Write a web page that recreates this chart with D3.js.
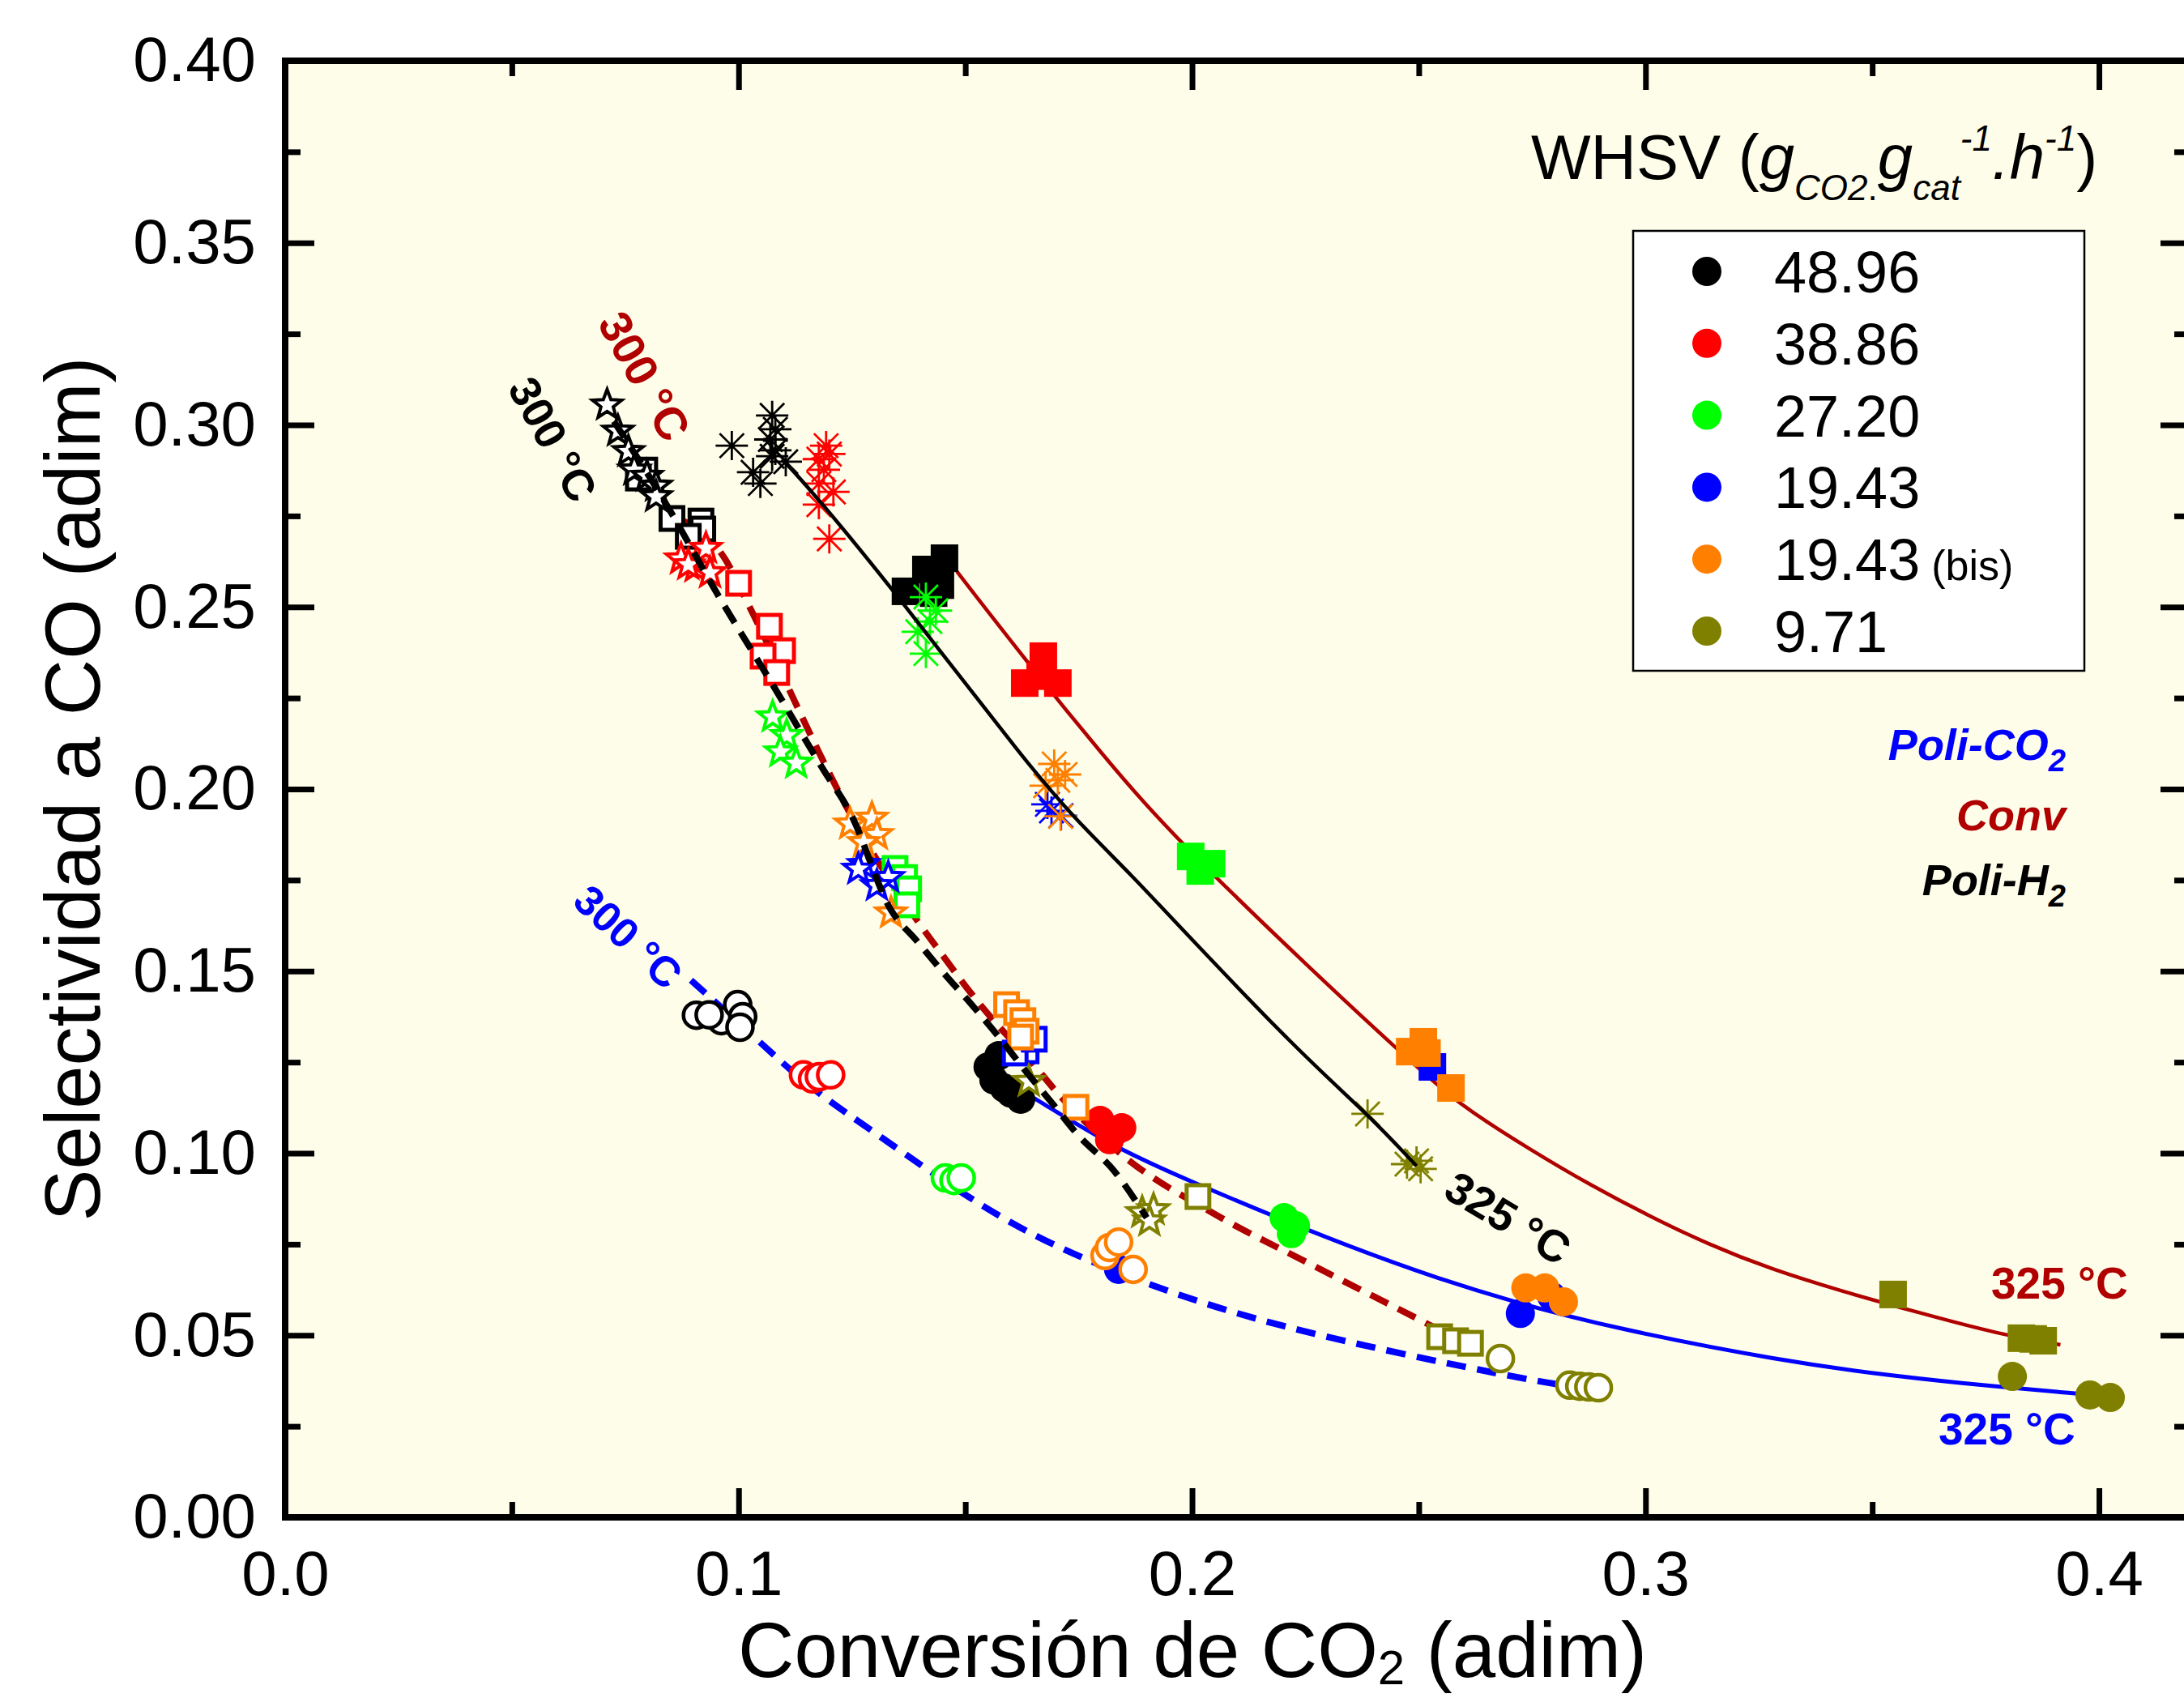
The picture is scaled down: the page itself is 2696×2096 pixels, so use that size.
<!DOCTYPE html>
<html>
<head>
<meta charset="utf-8">
<script src="https://cdn.jsdelivr.net/npm/d3@7"></script>
<style>
  body { margin: 0; background: #fff; }
  svg { display: block; }
  text { font-family: "Liberation Sans", Arial, Helvetica, sans-serif; }
</style>
</head>
<body>
<svg id="chart" width="2696" height="2096"></svg>
<script>
// CO selectivity vs CO2 conversion, three reactor modes (Conv, Poli-H2, Poli-CO2)
// at 300 and 325 °C, coloured by WHSV. Each row: [whsv index, conversion, selectivity]

var whsvLabels = ['48.96', '38.86', '27.20', '19.43', '19.43 (bis)', '9.71']
var whsvColors = ['#000000', '#ff0000', '#00ff00', '#0000ff', '#ff8000', '#808000']

var xMajor = [0, 0.1, 0.2, 0.3, 0.4]
var xMinor = [0.05, 0.15, 0.25, 0.35]
var yMajor = [0, 0.05, 0.10, 0.15, 0.20, 0.25, 0.30, 0.35, 0.40]
var yMinor = [0.025, 0.075, 0.125, 0.175, 0.225, 0.275, 0.325, 0.375]

// Conv, 325 °C (filled squares)
var convHot = [
  [0, 0.1368, 0.2543], [0, 0.1413, 0.2603], [0, 0.1430, 0.2538], [0, 0.1454, 0.2634], [0, 0.1445, 0.2560],
  [1, 0.1672, 0.2365], [1, 0.1631, 0.2291], [1, 0.1704, 0.2291], [1, 0.1665, 0.2310],
  [2, 0.1997, 0.1815], [2, 0.2043, 0.1795], [2, 0.2018, 0.1775],
  [3, 0.2530, 0.1237],
  [4, 0.2480, 0.1279], [4, 0.2510, 0.1306], [4, 0.2518, 0.1275], [4, 0.2571, 0.1179],
  [5, 0.3546, 0.0612], [5, 0.3829, 0.0492], [5, 0.3855, 0.0490], [5, 0.3877, 0.0485]
]
// Conv, 300 °C (open squares)
var convCold = [
  [0, 0.0793, 0.2876], [0, 0.0779, 0.2854], [0, 0.0853, 0.2743], [0, 0.0917, 0.2736], [0, 0.0921, 0.2714], [0, 0.0889, 0.2694],
  [1, 0.1000, 0.2565], [1, 0.1068, 0.2447], [1, 0.1097, 0.2380], [1, 0.1054, 0.2365], [1, 0.1084, 0.2320],
  [2, 0.1345, 0.1782], [2, 0.1366, 0.1757], [2, 0.1375, 0.1726], [2, 0.1371, 0.1682],
  [3, 0.1634, 0.1281], [3, 0.1610, 0.1275], [3, 0.1652, 0.1313],
  [4, 0.1591, 0.1408], [4, 0.1613, 0.1386], [4, 0.1627, 0.1364], [4, 0.1634, 0.1335], [4, 0.1622, 0.1319], [4, 0.1744, 0.1126],
  [5, 0.2013, 0.0881], [5, 0.2546, 0.0496], [5, 0.2581, 0.0485], [5, 0.2614, 0.0478]
]
// Poli-H2, 325 °C (asterisks)
var h2Hot = [
  [0, 0.0985, 0.2943], [0, 0.1074, 0.3026], [0, 0.1081, 0.2988], [0, 0.1074, 0.2914], [0, 0.1032, 0.2870],
  [0, 0.1048, 0.2839], [0, 0.1081, 0.2930], [0, 0.1104, 0.2899], [0, 0.1070, 0.2960],
  [1, 0.1193, 0.2943], [1, 0.1177, 0.2906], [1, 0.1188, 0.2877], [1, 0.1177, 0.2839], [1, 0.1209, 0.2816],
  [1, 0.1177, 0.2781], [1, 0.1200, 0.2687], [1, 0.1200, 0.2920],
  [2, 0.1413, 0.2527], [2, 0.1422, 0.2460], [2, 0.1395, 0.2432], [2, 0.1413, 0.2372], [2, 0.1435, 0.2490],
  [3, 0.1681, 0.1958], [3, 0.1711, 0.1927], [3, 0.1690, 0.1940],
  [4, 0.1696, 0.2069], [4, 0.1704, 0.2024], [4, 0.1677, 0.2009], [4, 0.1720, 0.2040], [4, 0.1710, 0.1925],
  [5, 0.2387, 0.1108], [5, 0.2474, 0.0970], [5, 0.2495, 0.0979], [5, 0.2504, 0.0957]
]
// Poli-H2, 300 °C (open stars)
var h2Cold = [
  [0, 0.0710, 0.3055], [0, 0.0734, 0.2983], [0, 0.0757, 0.2927], [0, 0.0770, 0.2876], [0, 0.0798, 0.2859],
  [0, 0.0818, 0.2832], [0, 0.0818, 0.2803],
  [1, 0.0873, 0.2632], [1, 0.0905, 0.2610], [1, 0.0928, 0.2661], [1, 0.0937, 0.2594], [1, 0.0889, 0.2616],
  [2, 0.1075, 0.2198], [2, 0.1106, 0.2147], [2, 0.1092, 0.2102], [2, 0.1127, 0.2071],
  [4, 0.1246, 0.1904], [4, 0.1294, 0.1920], [4, 0.1305, 0.1875], [4, 0.1276, 0.1853], [4, 0.1336, 0.1660],
  [3, 0.1276, 0.1793], [3, 0.1330, 0.1757], [3, 0.1305, 0.1735], [3, 0.1264, 0.1780],
  [5, 0.1640, 0.1197], [5, 0.1890, 0.0837], [5, 0.1915, 0.0845], [5, 0.1906, 0.0814]
]
// Poli-CO2, 325 °C (filled circles); the solid blue disc at 0.184 sits on the 300 °C curve
var co2Hot = [
  [0, 0.1550, 0.1237], [0, 0.1574, 0.1268], [0, 0.1586, 0.1179], [0, 0.1622, 0.1148], [0, 0.1563, 0.1201], [0, 0.1600, 0.1165],
  [1, 0.1797, 0.1090], [1, 0.1829, 0.1059], [1, 0.1818, 0.1037], [1, 0.1845, 0.1070],
  [2, 0.2203, 0.0823], [2, 0.2228, 0.0801], [2, 0.2219, 0.0779],
  [3, 0.1838, 0.0681], [3, 0.2724, 0.0560], [3, 0.2793, 0.0607],
  [4, 0.2736, 0.0630], [4, 0.2778, 0.0630], [4, 0.2819, 0.0592],
  [5, 0.3809, 0.0387], [5, 0.3980, 0.0336], [5, 0.4025, 0.0329]
]
// Poli-CO2, 300 °C (open circles)
var co2Cold = [
  [0, 0.0907, 0.1379], [0, 0.0962, 0.1364], [0, 0.0998, 0.1408], [0, 0.1009, 0.1375], [0, 0.1003, 0.1346], [0, 0.0935, 0.1380],
  [1, 0.1143, 0.1215], [1, 0.1163, 0.1204], [1, 0.1178, 0.1210], [1, 0.1203, 0.1215],
  [2, 0.1456, 0.0932], [2, 0.1475, 0.0925], [2, 0.1491, 0.0932],
  [4, 0.1808, 0.0719], [4, 0.1818, 0.0741], [4, 0.1838, 0.0756], [4, 0.1870, 0.0681],
  [5, 0.2680, 0.0436], [5, 0.2833, 0.0363], [5, 0.2855, 0.0360], [5, 0.2875, 0.0358], [5, 0.2896, 0.0356]
]

// fitted trend curves as [conversion, selectivity]
var convHotFit = [[0.1481, 0.2598], [0.1636, 0.2349], [0.1795, 0.2105], [0.1978, 0.1838], [0.2522, 0.1201],
  [0.2617, 0.1112], [0.2748, 0.1008], [0.2879, 0.0912], [0.3004, 0.0830], [0.3141, 0.0748], [0.3278, 0.0681],
  [0.3427, 0.0623], [0.3600, 0.0563], [0.3779, 0.0503], [0.3915, 0.0474]]
var convColdFit = [[0.0853, 0.2750], [0.0970, 0.2632], [0.1025, 0.2498], [0.1205, 0.2031], [0.1235, 0.1958],
  [0.1395, 0.1637], [0.1455, 0.1535], [0.1514, 0.1437], [0.1574, 0.1348], [0.1634, 0.1268], [0.1705, 0.1163],
  [0.1849, 0.0992], [0.2054, 0.0830], [0.2260, 0.0696], [0.2515, 0.0534], [0.2560, 0.0505]]
var h2HotFit = [[0.1096, 0.2906], [0.1157, 0.2825], [0.1340, 0.2550], [0.1646, 0.2053], [0.1753, 0.1904],
  [0.1872, 0.1757], [0.1961, 0.1637], [0.2238, 0.1275], [0.2387, 0.1108], [0.2495, 0.0965]]
var h2ColdFit = [[0.0725, 0.3010], [0.0841, 0.2781], [0.0953, 0.2536], [0.1073, 0.2291], [0.1187, 0.2053],
  [0.1246, 0.1935], [0.1336, 0.1668], [0.1395, 0.1580], [0.1455, 0.1491], [0.1514, 0.1408], [0.1574, 0.1319],
  [0.1634, 0.1224], [0.1693, 0.1135], [0.1747, 0.1052], [0.1829, 0.0950], [0.1900, 0.0823]]
var co2HotFit = [[0.1586, 0.1200], [0.1657, 0.1148], [0.1829, 0.1015], [0.2003, 0.0919], [0.2260, 0.0785],
  [0.2497, 0.0674], [0.2706, 0.0592], [0.2935, 0.0518], [0.3302, 0.0429], [0.3540, 0.0389], [0.3779, 0.0358],
  [0.3951, 0.0340], [0.4010, 0.0333]]
var co2ColdFit = [[0.0895, 0.1475], [0.1066, 0.1284], [0.1157, 0.1179], [0.1306, 0.1052], [0.1541, 0.0845],
  [0.1747, 0.0712], [0.2054, 0.0570], [0.2362, 0.0474], [0.2773, 0.0369], [0.2855, 0.0358]]

var darkRed = '#b00000'

var svg = d3.select('#chart')
var x = d3.scaleLinear().domain([0, 0.42]).range([352, 2703])
var y = d3.scaleLinear().domain([0, 0.40]).range([1873, 75])

// plot background
svg.append('rect')
  .attr('x', x(0)).attr('y', y(0.4))
  .attr('width', x(0.42) - x(0)).attr('height', y(0) - y(0.4))
  .attr('fill', '#fefde9')

// ---- fit lines under the markers ----
function lineGen(curve){
  return d3.line().x(function(d){ return x(d[0]) }).y(function(d){ return y(d[1]) }).curve(curve)
}
var smooth = lineGen(d3.curveBasis)      // fitted curves
var follow = lineGen(d3.curveMonotoneX)  // dashed guides that follow the clusters
function fit(data, color, dashed, width, gen){
  svg.append('path').attr('d', gen(data))
    .attr('fill', 'none').attr('stroke', color).attr('stroke-width', width)
    .attr('stroke-dasharray', dashed ? '24,14' : null)
}
fit(convHotFit, darkRed, false, 4.5, smooth)
fit(co2HotFit, '#0000ff', false, 5, smooth)
fit(convColdFit, darkRed, true, 8, follow)
fit(co2ColdFit, '#0000ff', true, 8, smooth)

// ---- markers ----
function starPath(R, r){
  var p = []
  for (var i = 0; i < 10; i++){
    var a = -Math.PI / 2 + i * Math.PI / 5, rr = i % 2 ? r : R
    p.push([(rr * Math.cos(a)).toFixed(2), (rr * Math.sin(a)).toFixed(2)])
  }
  return 'M' + p.join('L') + 'Z'
}
var shapes = {
  circle: function(g, c){ g.append('circle').attr('r', 18).attr('fill', c) },
  openCircle: function(g, c){ g.append('circle').attr('r', 16).attr('fill', '#fff').attr('stroke', c).attr('stroke-width', 4.5) },
  square: function(g, c){ g.append('rect').attr('x', -17).attr('y', -17).attr('width', 34).attr('height', 34).attr('fill', c) },
  openSquare: function(g, c){ g.append('rect').attr('x', -14).attr('y', -14).attr('width', 28).attr('height', 28)
    .attr('fill', '#fff').attr('stroke', c).attr('stroke-width', 5) },
  openStar: function(g, c){ g.append('path').attr('d', starPath(19, 8)).attr('fill', '#fff')
    .attr('stroke', c).attr('stroke-width', 4).attr('stroke-linejoin', 'miter') },
  asterisk: function(g, c){ g.append('path').attr('d', 'M-20,0H20M0,-18V18M-15,-15L15,15M-15,15L15,-15')
    .attr('fill', 'none').attr('stroke', c).attr('stroke-width', 2.8) }
}
function markers(data, shape){
  var g = svg.append('g')
  data.forEach(function(d){
    var m = g.append('g').attr('transform', 'translate(' + x(d[1]) + ',' + y(d[2]) + ')')
    shapes[shape](m, whsvColors[d[0]])
  })
}
markers(co2Hot, 'circle')
markers(co2Cold, 'openCircle')
markers(convHot, 'square')
markers(convCold, 'openSquare')
markers(h2Hot, 'asterisk')
markers(h2Cold, 'openStar')

// black Poli-H2 lines sit on top of the markers
fit(h2HotFit, '#000', false, 4.5, smooth)
fit(h2ColdFit, '#000', true, 8, follow)

// ---- frame + axes ----
svg.append('rect')
  .attr('x', x(0)).attr('y', y(0.4))
  .attr('width', x(0.42) - x(0)).attr('height', y(0) - y(0.4))
  .attr('fill', 'none').attr('stroke', '#000').attr('stroke-width', 8)

function axis(gen, tx, ty, values, size, labels, pad){
  var a = gen.tickValues(values).tickSize(-size).tickSizeOuter(0).tickPadding(pad || 0)
  if (labels) a.tickFormat(labels); else a.tickFormat('')
  var g = svg.append('g').attr('transform', 'translate(' + tx + ',' + ty + ')').call(a)
  g.select('.domain').remove()
  g.selectAll('.tick line').attr('stroke', '#000').attr('stroke-width', 7)
  g.selectAll('.tick text').attr('font-size', 78).attr('fill', '#000')
    .attr('font-family', '"Liberation Sans", Arial, sans-serif')
  return g
}
axis(d3.axisBottom(x), 0, y(0), xMajor, 36, d3.format('.1f'), 41)
axis(d3.axisBottom(x), 0, y(0), xMinor, 19)
axis(d3.axisTop(x), 0, y(0.4), xMajor, 36)
axis(d3.axisTop(x), 0, y(0.4), xMinor, 19)
axis(d3.axisLeft(y), x(0), 0, yMajor, 36, d3.format('.2f'), 36)
axis(d3.axisLeft(y), x(0), 0, yMinor, 19)
axis(d3.axisRight(y), x(0.42), 0, yMajor, 36)
axis(d3.axisRight(y), x(0.42), 0, yMinor, 19)

// axis titles
svg.append('text').attr('transform', 'translate(123,974) rotate(-90)')
  .attr('text-anchor', 'middle').attr('font-size', 96).text('Selectividad a CO (adim)')
var xt = svg.append('text').attr('x', 1472).attr('y', 2070).attr('text-anchor', 'middle').attr('font-size', 96)
xt.append('tspan').text('Conversión de CO')
xt.append('tspan').attr('font-size', 60).attr('dy', 9).text('2')
xt.append('tspan').attr('dy', -9).text(' (adim)')

// ---- legend ----
var lt = svg.append('text').attr('x', 1890).attr('y', 221).attr('font-size', 78)
lt.append('tspan').text('WHSV (')
lt.append('tspan').attr('font-style', 'italic').text('g')
lt.append('tspan').attr('font-style', 'italic').attr('font-size', 44).attr('dy', 26).text('CO2')
lt.append('tspan').attr('font-size', 44).text('.')
lt.append('tspan').attr('font-style', 'italic').attr('dy', -26).text('g')
lt.append('tspan').attr('font-style', 'italic').attr('font-size', 44).attr('dy', 26).text('cat')
lt.append('tspan').attr('font-style', 'italic').attr('font-size', 44).attr('dy', -61).text('-1')
lt.append('tspan').attr('font-style', 'italic').attr('dy', 35).text('.h')
lt.append('tspan').attr('font-style', 'italic').attr('font-size', 44).attr('dy', -35).text('-1')
lt.append('tspan').attr('dy', 35).text(')')

svg.append('rect').attr('x', 2016).attr('y', 285).attr('width', 557).attr('height', 543)
  .attr('fill', '#fff').attr('stroke', '#000').attr('stroke-width', 2.5)
whsvLabels.forEach(function(lab, i){
  var cy = 335 + i * 88.8
  svg.append('circle').attr('cx', 2107).attr('cy', cy).attr('r', 18).attr('fill', whsvColors[i])
  var t = svg.append('text').attr('x', 2190).attr('y', cy + 26).attr('font-size', 72)
  var parts = lab.split(' ')
  t.append('tspan').text(parts[0])
  if (parts[1]) t.append('tspan').attr('font-size', 52).attr('dx', 14).text(parts[1])
})

// reactor-mode labels
function modeLabel(yy, color, main, sub){
  var t = svg.append('text').attr('x', 2550).attr('y', yy).attr('text-anchor', 'end')
    .attr('font-size', 54).attr('font-weight', 'bold').attr('font-style', 'italic').attr('fill', color)
  t.append('tspan').text(main)
  if (sub) t.append('tspan').attr('font-size', 38).attr('dy', 14).text(sub)
}
modeLabel(938, '#0000ff', 'Poli-CO', '2')
modeLabel(1025, darkRed, 'Conv')
modeLabel(1105, '#000', 'Poli-H', '2')

// temperature labels
function tempLabel(cx, cy, angle, color, txt, size){
  svg.append('text').attr('transform', 'translate(' + cx + ',' + cy + ') rotate(' + angle + ')')
    .attr('text-anchor', 'middle').attr('dy', '0.36em').attr('font-size', size)
    .attr('font-weight', 'bold').attr('fill', color).text(txt)
}
tempLabel(796, 464, 61, darkRed, '300 °C', 56)
tempLabel(683, 542, 61, '#000', '300 °C', 54)
tempLabel(776, 1156, 43, '#0000ff', '300 °C', 52)
tempLabel(1862, 1503, 31, '#000', '325 °C', 55)
svg.append('text').attr('x', 2458).attr('y', 1603).attr('font-size', 55).attr('font-weight', 'bold')
  .attr('fill', darkRed).text('325 °C')
svg.append('text').attr('x', 2393).attr('y', 1783).attr('font-size', 55).attr('font-weight', 'bold')
  .attr('fill', '#0000ff').text('325 °C')
</script>
</body>
</html>
